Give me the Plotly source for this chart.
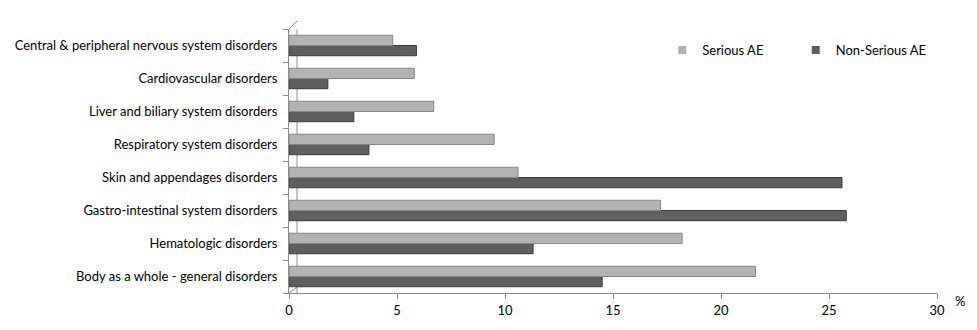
import plotly.graph_objects as go

categories = [
    "Body as a whole - general disorders",
    "Hematologic disorders",
    "Gastro-intestinal system disorders",
    "Skin and appendages disorders",
    "Respiratory system disorders",
    "Liver and biliary system disorders",
    "Cardiovascular disorders",
    "Central & peripheral nervous system disorders",
]
serious = [21.6, 18.2, 17.2, 10.6, 9.5, 6.7, 5.8, 4.8]
non_serious = [14.5, 11.3, 25.8, 25.6, 3.7, 3.0, 1.8, 5.9]
x_ticks = [0, 5, 10, 15, 20, 25, 30]

FONT = "Lato"
FS = 13
C_SER = "#b3b3b3"
C_NON = "#5f5f5f"

fig = go.Figure()
fig.add_trace(go.Bar(
    y=categories, x=non_serious, orientation="h", name="Non-Serious AE",
    marker=dict(color=C_NON, line=dict(color="#3a3a3a", width=1)),
    showlegend=False,
))
fig.add_trace(go.Bar(
    y=categories, x=serious, orientation="h", name="Serious AE",
    marker=dict(color=C_SER, line=dict(color="#858585", width=1)),
    showlegend=False,
))
# legend entries (small square markers like the reference)
fig.add_trace(go.Scatter(x=[None], y=[None], mode="markers", name="Serious AE",
                         marker=dict(symbol="square", size=8, color=C_SER),
                         legend="legend"))
fig.add_trace(go.Scatter(x=[None], y=[None], mode="markers", name="Non-Serious AE",
                         marker=dict(symbol="square", size=8, color=C_NON),
                         legend="legend2"))

axis_col = "#8c8c8c"
leg_common = dict(orientation="h", yanchor="middle", xanchor="left",
                  font=dict(family=FONT, size=FS, color="#000"),
                  itemwidth=30, bgcolor="rgba(0,0,0,0)")
fig.update_layout(
    width=977, height=330,
    margin=dict(l=289, r=40, t=29, b=37),
    paper_bgcolor="white", plot_bgcolor="white",
    barmode="group", bargap=0.38, bargroupgap=0.0,
    font=dict(family=FONT, size=FS, color="#000000"),
    showlegend=True,
    legend=dict(x=0.576, y=0.92, **leg_common),
    legend2=dict(x=0.782, y=0.92, **leg_common),
    xaxis=dict(range=[0, 30], tickvals=x_ticks, ticks="outside", ticklen=5,
               tickcolor=axis_col, showline=True, linecolor=axis_col, linewidth=1,
               showgrid=False, zeroline=False, tickfont=dict(size=FS),
               fixedrange=True),
    yaxis=dict(ticks="outside", tickson="boundaries", ticklen=5, tickcolor=axis_col,
               showline=True, linecolor=axis_col, linewidth=1, showgrid=False,
               ticklabelstandoff=8, fixedrange=True),
)

# 3D back wall lines (pixel offsets from data anchors)
d = 8
shapes = [
    dict(type="line", xref="x", yref="paper", xsizemode="pixel", xanchor=0,
         x0=d, x1=d, y0=0.0, y1=1.0, ysizemode="scaled", layer="below",
         line=dict(color=axis_col, width=1)),
    dict(type="line", xref="x", yref="paper", xsizemode="pixel", ysizemode="pixel",
         xanchor=0, yanchor=0, x0=0, y0=0, x1=d, y1=d * 0.75, layer="below",
         line=dict(color=axis_col, width=1)),
    dict(type="line", xref="x", yref="paper", xsizemode="pixel", ysizemode="pixel",
         xanchor=0, yanchor=1, x0=0, y0=0, x1=d, y1=d,
         line=dict(color=axis_col, width=1)),
]
fig.update_layout(shapes=shapes)

fig.add_annotation(text="%", xref="paper", yref="paper", x=1.0, y=0, xshift=23, yshift=-8,
                   showarrow=False, font=dict(family=FONT, size=FS, color="#000"),
                   xanchor="center", yanchor="middle")

fig.write_html("out.html")
